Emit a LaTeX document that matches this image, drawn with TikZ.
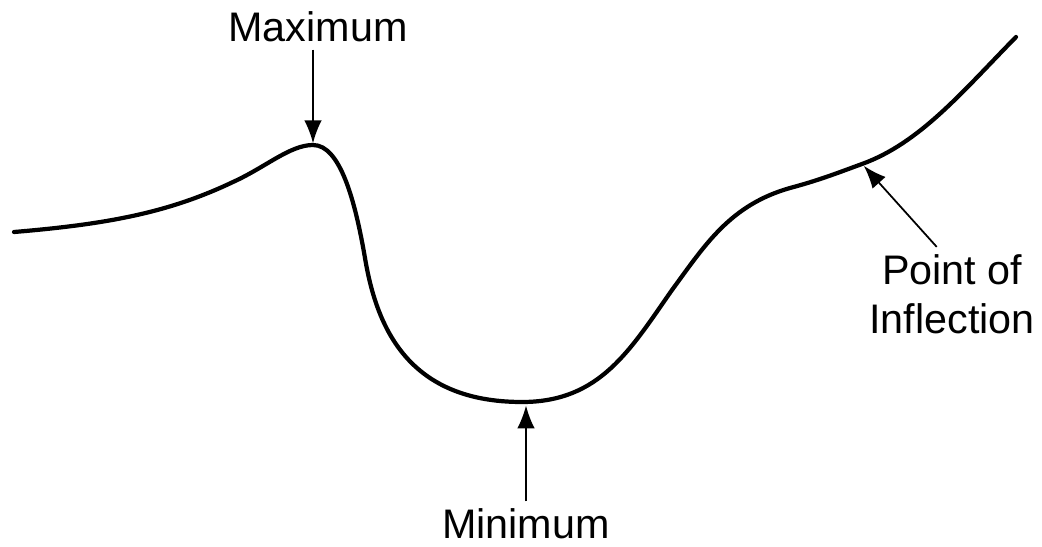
\documentclass[tikz,border=0pt]{standalone}
\usepackage{fontspec}
\setmainfont{Liberation Sans}
\usepackage{tikz}
\usetikzlibrary{positioning,arrows.meta}
\tikzset{
  curveline/.style = {line width=2.4pt, black, line cap=round, line join=round},
  pointer/.style   = {-{Latex[length=13pt, width=10pt]}, line width=1pt, black},
  lbl/.style       = {font=\fontsize{23.5}{28}\selectfont, inner sep=4pt, align=center}
}

\begin{document}
\begin{tikzpicture}[x=0.02cm, y=-0.02cm]
  \useasboundingbox (0,0) rectangle (1042,547);
  % ---- points on the curve ----
  \coordinate (maxpt)  at (313,145);
  \coordinate (minpt)  at (522,402);
  \coordinate (inflpt) at (862,164);
  % ---- the curve ----
  \draw[curveline] (14,232) .. controls (110,224) and (170,212) .. (233,182)
    .. controls (266,167) and (290,145) .. (maxpt)
    .. controls (340,145) and (355,200) .. (365,258)
    .. controls (377,330) and (410,402) .. (minpt)
    .. controls (600,402) and (630,350) .. (672,290)
    .. controls (705,245) and (730,205) .. (790,188)
    .. controls (820,180) and (840,172) .. (inflpt)
    .. controls (920,143) and (962,92) .. (1016,37);
  % ---- labels ----
  \node[lbl] (maxlbl)  at (318,27)  {Maximum};
  \node[lbl] (minlbl)  at (526,524) {Minimum};
  \node[lbl] (infllbl) at (952,294) {Point of\\Inflection};
  % ---- arrows ----
  \draw[pointer] (maxlbl.south -| maxpt) -- ([yshift=1pt]maxpt);
  \draw[pointer] (minlbl.north) -- ([yshift=-2pt]minlbl.north |- minpt);
  \draw[pointer] (infllbl.108) -- ([shift={(1pt,-1pt)}]inflpt);
\end{tikzpicture}
\end{document}
